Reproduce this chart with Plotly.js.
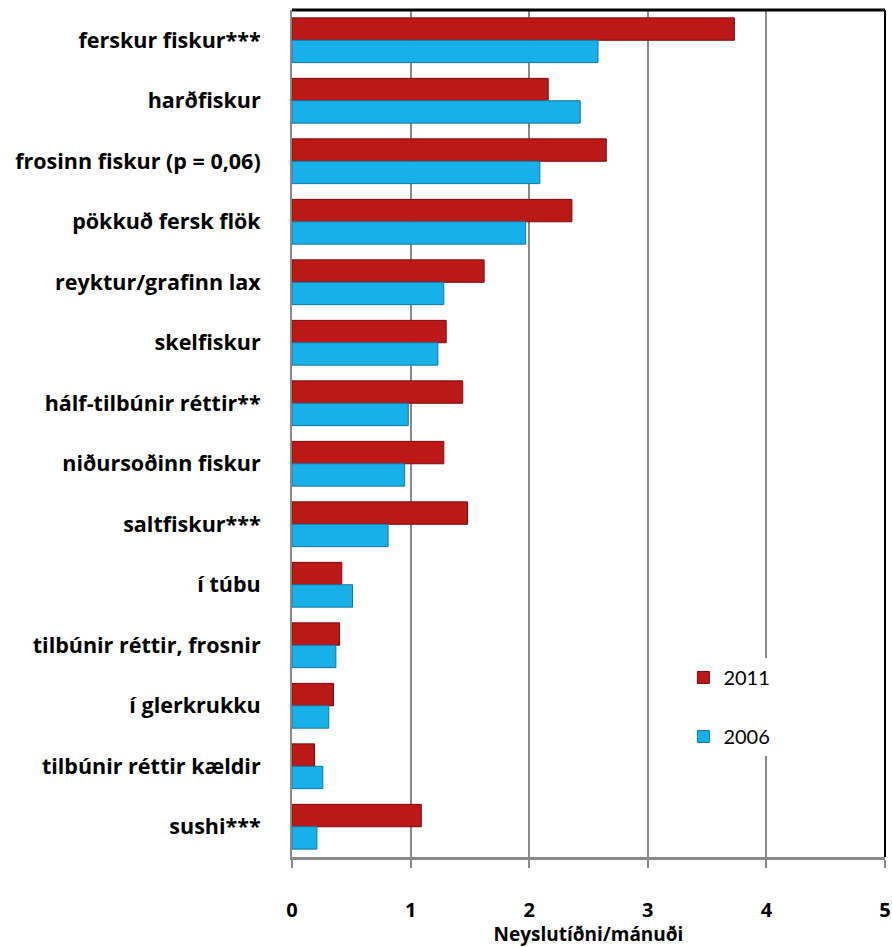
<!DOCTYPE html>
<html>
<head>
<meta charset="utf-8">
<script src="https://cdn.plot.ly/plotly-3.0.1.min.js"></script>
<style>html,body{margin:0;padding:0;background:#fff;}#chart{width:892px;height:947px;}</style>
</head>
<body>
<div id="chart"></div>
<script>
const categories = [
  "ferskur fiskur***",
  "harðfiskur",
  "frosinn fiskur (p = 0,06)",
  "pökkuð fersk flök",
  "reyktur/grafinn lax",
  "skelfiskur",
  "hálf-tilbúnir réttir**",
  "niðursoðinn fiskur",
  "saltfiskur***",
  "í túbu",
  "tilbúnir réttir, frosnir",
  "í glerkrukku",
  "tilbúnir réttir kældir",
  "sushi***"
];
const values2011 = [3.73, 2.16, 2.65, 2.36, 1.62, 1.30, 1.44, 1.28, 1.48, 0.42, 0.40, 0.35, 0.19, 1.09];
const values2006 = [2.58, 2.43, 2.09, 1.97, 1.28, 1.23, 0.98, 0.95, 0.81, 0.51, 0.37, 0.31, 0.26, 0.21];
const xTicks = [0, 1, 2, 3, 4, 5];

const FONT = "'Open Sans', 'Liberation Sans', sans-serif";

const traces = [
  {
    type: "bar", orientation: "h", name: "2011", legendgroup: "a",
    y: categories, x: values2011,
    marker: {color: "#BC1818", line: {color: "#7E0A0A", width: 1}}
  },
  {
    type: "bar", orientation: "h", name: "2006", legendgroup: "b",
    y: categories, x: values2006,
    marker: {color: "#18B0E8", line: {color: "#13789E", width: 1}}
  }
];

const layout = {
  width: 892, height: 947,
  margin: {l: 292, r: 7, t: 10, b: 90},
  paper_bgcolor: "#fff", plot_bgcolor: "#fff",
  barmode: "group", bargap: 0.26, bargroupgap: 0,
  font: {family: FONT, color: "#000"},
  showlegend: true,
  legend: {
    x: 0.66, y: 0.235, xanchor: "left", yanchor: "top",
    bgcolor: "#fff", borderwidth: 0,
    font: {family: "Lato, 'Open Sans', sans-serif", size: 20, color: "#000"},
    tracegroupgap: 30, traceorder: "grouped", itemwidth: 30
  },
  xaxis: {
    range: [0, 5], tickvals: xTicks, ticktext: xTicks.map(v => "<b>" + v + "</b>"),
    showgrid: true, gridcolor: "#8a8a8a", gridwidth: 2,
    showline: true, linecolor: "#8a8a8a", linewidth: 3,
    ticks: "outside", ticklen: 8, tickwidth: 2, tickcolor: "#8a8a8a",
    zeroline: false,
    tickfont: {family: FONT, size: 20, color: "#000"},
    ticklabelstandoff: 25,
    title: {text: "<b>Neyslutíðni/mánuði</b>", font: {family: FONT, size: 19, color: "#000"}, standoff: 4},
    fixedrange: true
  },
  yaxis: {
    type: "category", autorange: "reversed",
    tickvals: categories, ticktext: categories.map(c => "<b>" + c + "</b>"),
    showline: true, linecolor: "#8a8a8a", linewidth: 2,
    ticks: "", showgrid: false, zeroline: false,
    tickfont: {family: FONT, size: 21.5, color: "#000"},
    ticklabelstandoff: 25,
    fixedrange: true
  },
  shapes: [
    {type: "line", xref: "paper", yref: "paper", x0: 0, x1: 1, y0: 1, y1: 1, line: {color: "#000", width: 3}},
    {type: "line", xref: "paper", yref: "paper", x0: 1, x1: 1, y0: 0, y1: 1, line: {color: "#000", width: 2}}
  ]
};

Plotly.newPlot("chart", traces, layout, {displayModeBar: false, staticPlot: true});
</script>
</body>
</html>
